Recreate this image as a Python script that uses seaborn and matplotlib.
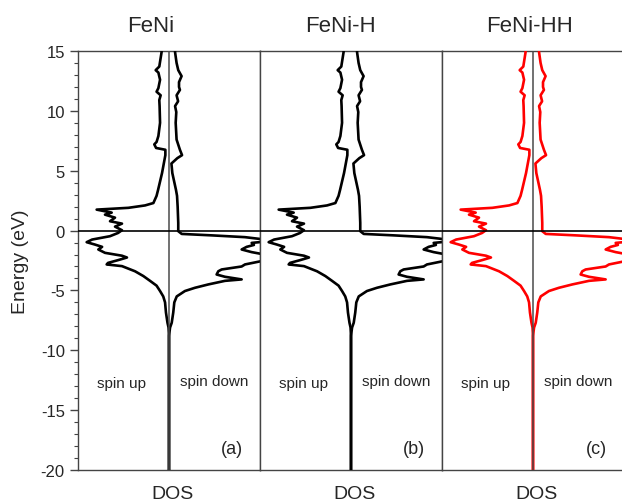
import numpy as np
import pandas as pd
import matplotlib
matplotlib.use("Agg")
import matplotlib.pyplot as plt
from matplotlib.ticker import MultipleLocator
import seaborn as sns

# Panel titles / colours
titles = ["FeNi", "FeNi-H", "FeNi-HH"]
panel_tags = ["(a)", "(b)", "(c)"]
line_colors = ["black", "black", "red"]

# Spin-up DOS (plotted to the left, negative)
energy_up = [15.5, 14.9, 13.7, 13.4, 13.2, 12.6, 11.9, 11.6, 11.3, 10.9, 10.4, 9.0,
             7.9, 7.4, 7.2, 6.9, 6.75, 6.3, 4.8, 3.4, 2.9, 2.3, 2.1, 1.9, 1.75, 1.5,
             1.33, 1.08, 0.78, 0.58, 0.33, 0.03, -0.2, -0.47, -0.75, -0.97, -1.17,
             -1.36, -1.58, -1.86, -2.1, -2.25, -2.47, -2.7, -2.83, -2.97, -3.4, -3.8,
             -4.2, -4.6, -5.05, -5.5, -6.0, -6.85, -7.7, -8.1, -8.8, -20.0]
dos_up = [-0.49, -0.49, -0.64, -0.88, -0.70, -0.59, -0.70, -0.82, -0.55, -0.64, -0.62, -0.59,
          -0.70, -0.82, -0.97, -0.85, -0.24, -0.24, -0.46, -0.72, -0.82, -1.03, -1.58, -2.68,
          -4.77, -3.78, -4.22, -3.56, -3.89, -3.10, -3.56, -3.10, -3.36, -3.89, -5.07, -5.43,
          -4.88, -4.41, -4.66, -4.22, -3.10, -2.77, -3.36, -4.02, -4.11, -3.10, -2.24, -1.69,
          -1.25, -0.82, -0.59, -0.38, -0.26, -0.20, -0.10, -0.03, 0.0, 0.0]

# Spin-down DOS (plotted to the right, positive)
energy_down = [15.5, 14.9, 14.0, 13.4, 12.9, 12.4, 12.0, 11.75, 11.3, 10.8, 10.4, 9.9,
               9.0, 7.6, 6.75, 6.3, 6.05, 5.6, 4.8, 3.4, 2.9, 2.0, 0.64, -0.05, -0.28,
               -0.4, -0.55, -0.7, -0.8, -0.89, -1.03, -1.2, -1.36, -1.58, -1.8, -2.0,
               -2.2, -2.42, -2.83, -3.0, -3.25, -3.4, -3.67, -3.86, -4.08, -4.2, -4.5,
               -4.78, -5.05, -5.5, -6.0, -6.85, -7.7, -8.1, -8.8, -20.0]
dos_down = [0.40, 0.40, 0.50, 0.61, 0.83, 0.66, 0.66, 0.72, 0.50, 0.60, 0.40, 0.48,
            0.44, 0.50, 0.72, 0.86, 0.55, 0.16, 0.22, 0.46, 0.53, 0.57, 0.61, 0.61, 0.84,
            2.81, 5.01, 6.0, 6.8, 6.6, 5.45, 5.6, 5.12, 4.79, 5.45, 6.3,
            6.8, 6.6, 5.01, 4.79, 3.47, 3.25, 3.14, 3.69, 4.79, 3.69, 2.59,
            1.71, 1.05, 0.51, 0.35, 0.28, 0.18, 0.07, 0.0, 0.0]

sns.set_style("white")
plt.rcParams["font.family"] = ["Liberation Sans", "DejaVu Sans"]

up_df = pd.DataFrame({"dos": dos_up, "energy": energy_up})
down_df = pd.DataFrame({"dos": dos_down, "energy": energy_down})

fig = plt.figure(figsize=(6.22, 5.02), dpi=100)
W, H = 622.0, 502.0
lefts = [78, 260, 442]
title_x = [0.40, 0.44, 0.48]

for i, left in enumerate(lefts):
    ax = fig.add_axes([left / W, 31 / H, 182 / W, 419 / H])
    c = line_colors[i]

    sns.lineplot(data=up_df, x="dos", y="energy", sort=False, estimator=None,
                 color=c, lw=1.9, ax=ax, zorder=3)
    sns.lineplot(data=down_df, x="dos", y="energy", sort=False, estimator=None,
                 color=c, lw=1.9, ax=ax, zorder=3)

    # center line (not drawn in panel b), on top of the curves
    if i != 1:
        ax.axvline(0, color="#4a4a4a", lw=1.1, zorder=4)
    ax.axhline(0, color="black", lw=1.2, zorder=4)

    ax.set_xlim(-6, 6)
    ax.set_ylim(-20, 15)
    ax.set_xticks([])
    ax.set_xlabel("DOS", fontsize=14)
    ax.xaxis.set_label_coords(0.52, -0.035)

    for s in ax.spines.values():
        s.set_color("#444444")
        s.set_linewidth(1.0)

    if i == 0:
        ax.yaxis.set_major_locator(MultipleLocator(5))
        ax.yaxis.set_minor_locator(MultipleLocator(1))
        ax.tick_params(axis="y", which="major", direction="out", length=6,
                       width=1, color="#444444", labelsize=12, left=True)
        ax.tick_params(axis="y", which="minor", direction="out", length=3,
                       width=0.8, color="#444444", left=True)
        ax.set_yticklabels([f"{int(v)}" for v in ax.get_yticks()])
        ax.set_ylabel("Energy (eV)", fontsize=14)
        ax.yaxis.set_label_coords(-0.27, 0.5)
    else:
        ax.set_yticks([])
        ax.set_ylabel("")

    ax.text(title_x[i], 1.048, titles[i], transform=ax.transAxes,
            ha="center", va="baseline", fontsize=16)
    ax.text(-3.1, -12.75, "spin up", ha="center", va="center", fontsize=11)
    ax.text(3.0, -12.6, "spin down", ha="center", va="center", fontsize=11)
    ax.text(4.15, -18.2, panel_tags[i], ha="center", va="center", fontsize=13)

fig.savefig("out.png", dpi=100)
